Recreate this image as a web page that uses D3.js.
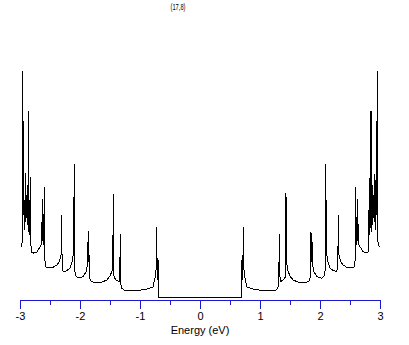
<!DOCTYPE html>
<html lang="en">
<head>
<meta charset="UTF-8">
<title>(17,8) DOS</title>
<script src="https://cdn.jsdelivr.net/npm/d3@7"></script>
<style>
    body { margin: 0; background: #fff; }
    svg text { font-family: "Liberation Sans", Arial, sans-serif; fill: #000; }
    path.dos { fill: none; stroke: #000; stroke-width: 1px; shape-rendering: crispEdges; }
    .axis path, .axis line { stroke: #1a1acc; }
</style>
</head>
<body>
<script>
    // chart values
    var title = "(17,8)";
    var xLabel = "Energy (eV)";
    var majorTicks = [-3, -2, -1, 0, 1, 2, 3];
    var minorTicks = [-2.5, -1.5, -0.5, 0.5, 1.5, 2.5];

    // valence side (E < 0), left to right
    var energyNeg = [-2.983, -2.970, -2.960, -2.953, -2.947, -2.940, -2.932, -2.922, -2.913, -2.903,
        -2.897, -2.888, -2.880, -2.872, -2.865, -2.860, -2.855, -2.848, -2.843, -2.837,
        -2.828, -2.822, -2.813, -2.775, -2.717, -2.667, -2.638, -2.628, -2.620, -2.605,
        -2.595, -2.588, -2.575, -2.467, -2.383, -2.350, -2.315, -2.308, -2.297, -2.278,
        -2.217, -2.167, -2.133, -2.108, -2.095, -2.088, -2.070, -2.033, -1.950, -1.900,
        -1.877, -1.870, -1.862, -1.855, -1.845, -1.817, -1.750, -1.650, -1.550, -1.500,
        -1.467, -1.453, -1.445, -1.433, -1.400, -1.345, -1.337, -1.328, -1.320, -1.300,
        -1.250, -1.083, -0.917, -0.850, -0.783, -0.740, -0.730, -0.722, -0.713, -0.705,
        -0.695, -0.692];
    var dosNeg = [0.53, 0.55, 0.60, 2.29, 0.85, 1.79, 0.70, 1.00, 0.78, 1.27,
        0.82, 1.05, 0.75, 1.15, 0.95, 1.89, 0.68, 0.72, 1.00, 0.65,
        1.23, 0.64, 0.48, 0.47, 0.48, 0.53, 0.56, 1.01, 0.60, 0.55,
        1.13, 0.42, 0.33, 0.32, 0.35, 0.38, 0.45, 0.85, 0.33, 0.28,
        0.295, 0.32, 0.38, 0.47, 1.36, 0.30, 0.24, 0.22, 0.233, 0.28,
        0.35, 0.58, 0.38, 0.69, 0.23, 0.19, 0.173, 0.175, 0.20, 0.24,
        0.29, 0.37, 1.06, 0.23, 0.20, 0.183, 0.24, 0.66, 0.16, 0.115,
        0.093, 0.093, 0.105, 0.115, 0.13, 0.25, 0.32, 0.73, 0.22, 0.20,
        0.40, 0.03];

    // conduction side (E > 0), left to right
    var energyPos = [0.692, 0.695, 0.703, 0.713, 0.722, 0.730, 0.742, 0.783, 0.850, 0.917,
        1.083, 1.250, 1.292, 1.313, 1.322, 1.330, 1.345, 1.383, 1.422, 1.433,
        1.443, 1.467, 1.500, 1.550, 1.650, 1.750, 1.817, 1.842, 1.850, 1.858,
        1.867, 1.877, 1.900, 1.950, 2.033, 2.070, 2.088, 2.095, 2.108, 2.133,
        2.167, 2.217, 2.278, 2.297, 2.305, 2.315, 2.350, 2.383, 2.467, 2.575,
        2.588, 2.595, 2.605, 2.620, 2.628, 2.638, 2.667, 2.717, 2.767, 2.805,
        2.813, 2.822, 2.828, 2.837, 2.843, 2.850, 2.857, 2.863, 2.872, 2.880,
        2.888, 2.897, 2.905, 2.913, 2.922, 2.930, 2.938, 2.947, 2.953, 2.962,
        2.975, 2.992];
    var dosPos = [0.03, 0.40, 0.20, 0.22, 0.73, 0.32, 0.24, 0.13, 0.115, 0.105,
        0.093, 0.093, 0.115, 0.16, 0.66, 0.24, 0.183, 0.20, 0.23, 1.067,
        0.37, 0.29, 0.24, 0.20, 0.175, 0.173, 0.19, 0.23, 0.683, 0.38,
        0.583, 0.35, 0.28, 0.233, 0.217, 0.24, 0.30, 1.36, 0.47, 0.38,
        0.317, 0.295, 0.283, 0.33, 0.85, 0.45, 0.38, 0.35, 0.32, 0.33,
        0.42, 1.133, 0.55, 0.60, 1.01, 0.56, 0.533, 0.483, 0.47, 0.48,
        0.64, 1.22, 0.65, 1.00, 0.72, 1.89, 0.68, 0.95, 1.15, 0.75,
        1.05, 0.82, 1.26, 0.78, 1.00, 0.70, 1.79, 0.85, 2.29, 0.60,
        0.55, 0.53];

    var width = 409, height = 345;

    var svg = d3.select("body").append("svg")
        .attr("width", width)
        .attr("height", height);

    var x = d3.scaleLinear().domain([-3, 3]).range([20, 380]);
    var y = d3.scaleLinear().domain([0, 2.5]).range([300, 50]);

    var points = energyNeg.map(function (e, i) { return [e, dosNeg[i]]; })
        .concat(energyPos.map(function (e, i) { return [e, dosPos[i]]; }));

    var line = d3.line()
        .x(function (d) { return x(d[0]); })
        .y(function (d) { return y(d[1]); });

    svg.append("path")
        .datum(points)
        .attr("class", "dos")
        .attr("d", line);

    // minor ticks first, no labels
    svg.append("g")
        .attr("class", "axis")
        .attr("transform", "translate(0,300)")
        .call(d3.axisBottom(x).tickValues(minorTicks).tickSize(5).tickSizeOuter(0).tickFormat(""));

    var ax = svg.append("g")
        .attr("class", "axis")
        .attr("transform", "translate(0,300)")
        .call(d3.axisBottom(x).tickValues(majorTicks).tickSize(9).tickSizeOuter(0)
            .tickFormat(function (d) { return String(d); }));
    ax.selectAll("text").attr("font-size", 11).attr("font-family", null).style("fill", "#000");

    svg.append("text")
        .attr("x", 200)
        .attr("y", 334)
        .attr("text-anchor", "middle")
        .attr("font-size", 11)
        .text(xLabel);

    svg.append("text")
        .attr("x", 170.5)
        .attr("y", 10)
        .attr("font-size", 9.5)
        .attr("textLength", 15)
        .attr("lengthAdjust", "spacingAndGlyphs")
        .text(title);
</script>
</body>
</html>
